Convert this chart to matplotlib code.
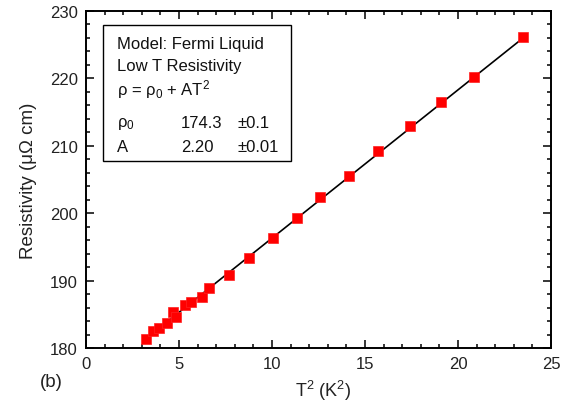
import matplotlib
matplotlib.use("Agg")
import matplotlib.pyplot as plt
import numpy as np
from matplotlib.ticker import MultipleLocator
from matplotlib.patches import Rectangle

plt.rcParams['font.family'] = ['Liberation Sans', 'DejaVu Sans']
plt.rcParams['mathtext.fontset'] = 'custom'
plt.rcParams['mathtext.rm'] = 'Liberation Sans'
plt.rcParams['mathtext.it'] = 'Liberation Sans'

# Data
t2 = [3.23, 3.58, 3.94, 4.34, 4.69, 4.82, 5.32, 5.65, 6.22, 6.63, 7.67,
      8.78, 10.07, 11.36, 12.58, 14.16, 15.70, 17.44, 19.07, 20.88, 23.51]
rho = [181.4, 182.5, 183.0, 183.7, 185.4, 184.6, 186.4, 186.8, 187.5, 188.9, 190.8,
       193.3, 196.3, 199.3, 202.4, 205.5, 209.2, 213.0, 216.5, 220.2, 226.2]
rho0 = 174.3
A_fit = 2.20
xticks = [0, 5, 10, 15, 20, 25]
yticks = [180, 190, 200, 210, 220, 230]

fig = plt.figure(figsize=(5.74, 4.14), dpi=100)
ax = fig.add_axes([86/574, 1-349/414, (551-86)/574, (349-12)/414])

xf = np.array([min(t2), max(t2)])
ax.plot(xf, rho0 + A_fit*xf, color='black', lw=1.2, zorder=2)
ax.plot(t2, rho, linestyle='none', marker='s', ms=6.5, mfc='#ff0000',
        mec='#ff2020', mew=0.5, zorder=3)

ax.set_xlim(0, 25)
ax.set_ylim(180, 230)
ax.set_xticks(xticks)
ax.set_yticks(yticks)
ax.xaxis.set_minor_locator(MultipleLocator(1))
ax.yaxis.set_minor_locator(MultipleLocator(2))
ax.tick_params(which='both', direction='in', top=True, right=True,
               labelsize=12, width=1.1, colors='black', labelcolor='#222222')
ax.tick_params(which='major', length=6, pad=6)
ax.tick_params(which='minor', length=3)
for s in ax.spines.values():
    s.set_linewidth(1.4)

ax.set_xlabel('T$^{2}$ (K$^{2}$)', fontsize=13, color='#222222', labelpad=3)
ax.xaxis.set_label_coords(0.51, -0.09)
ax.set_ylabel('Resistivity (\u03bc\u03a9 cm)', fontsize=13.5, color='#222222', labelpad=9)

fig.text(51/574, 1-383/414, '(b)', fontsize=13.5, ha='center', va='center', color='#222222')

# Box with fit results
bx0, by0 = 103/574, 1-162/414
bw, bh = (291-103)/574, (162-26)/414
fig.patches.append(Rectangle((bx0, by0), bw, bh, transform=fig.transFigure,
                             fill=True, fc='white', ec='black', lw=1.0, zorder=5))
fs = 12
tx = 117/574
rows = [
    (45, 'Model: Fermi Liquid', None, None),
    (66, 'Low T Resistivity', None, None),
    (90, '\u03c1 = \u03c1$_{0}$ + AT$^{2}$', None, None),
    (124, '\u03c1$_{0}$', '174.3', '\u00b10.1'),
    (148, 'A', '2.20', '\u00b10.01'),
]
for y, a, b, c in rows:
    fig.text(tx, 1-y/414, a, fontsize=fs, ha='left', va='center', color='#111111', zorder=6)
    if b:
        fig.text(181/574, 1-y/414, b, fontsize=fs, ha='left', va='center', color='#111111', zorder=6)
        fig.text(238/574, 1-y/414, c, fontsize=fs, ha='left', va='center', color='#111111', zorder=6)

fig.savefig('out.png', dpi=100)
